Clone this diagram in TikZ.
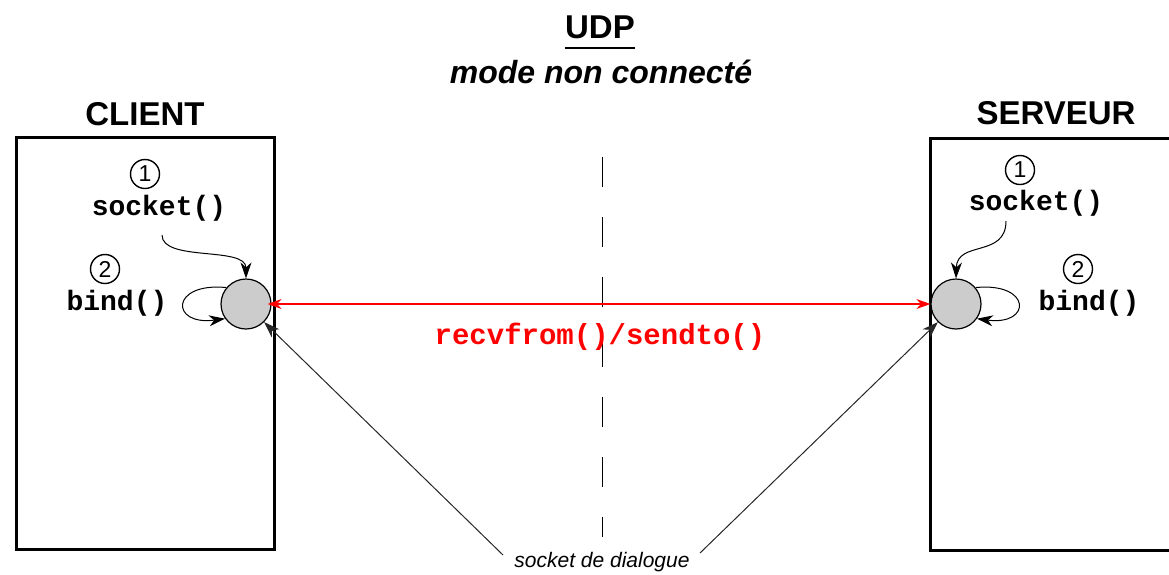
\documentclass[tikz,border=0pt]{standalone}
\usepackage{fontspec}
\setmainfont{Liberation Sans}
\setmonofont{Liberation Mono}
\usetikzlibrary{arrows.meta}

\begin{document}
\begin{tikzpicture}[x=1pt,y=-1pt,
  hostbox/.style={draw, line width=3pt},
  sockc/.style={circle, draw, line width=1.2pt, fill=black!20, minimum size=50pt, inner sep=0pt},
  callname/.style={font=\fontsize{28}{28}\selectfont\ttfamily\bfseries, inner sep=0pt, anchor=base},
  stepnum/.style={circle, draw, line width=1.4pt, minimum size=29pt, inner sep=0pt, font=\fontsize{23}{23}\selectfont},
  hosttitle/.style={font=\fontsize{33}{33}\selectfont\bfseries, inner sep=0pt, anchor=base},
  tip/.style={-{Stealth[length=16pt,width=11pt,inset=5pt]}, line width=1pt},
  exchange/.style={red, line width=1.2pt, {Stealth[length=14pt,width=10pt]}-{Stealth[length=14pt,width=10pt]}},
  boundary/.style={line width=1pt, dash pattern=on 30pt off 30pt},
]
\useasboundingbox (0,0) rectangle (1169,574);

% host frames (the server frame runs off the right edge)
\begin{scope}
  \clip (0,0) rectangle (1169,574);
  \draw[hostbox] (16,137) rectangle (274,549);
  \draw[hostbox] (930,138) rectangle (1195,550);
\end{scope}

% titles
\node[hosttitle] (udp) at (600,38) {UDP};
\draw[line width=2.5pt] ([yshift=-10pt]udp.base west) -- ([yshift=-10pt]udp.base east);
\node[font=\fontsize{32}{32}\selectfont\bfseries\itshape, inner sep=0pt, anchor=base] (mode) at (601,83) {mode non connecté};
\node[hosttitle] (client) at (145,125) {CLIENT};
\node[hosttitle] (serveur) at (1056,124) {SERVEUR};

% boundary between the hosts
\coordinate (btop) at (602,157);
\coordinate (bbot) at (602,537);
\draw[boundary] (btop) -- (bbot);

% sockets
\node[sockc] (cs) at (246,304) {};
\node[sockc] (ss) at (956,304) {};

% client calls
\node[stepnum] (c1) at (145,174) {1};
\node[callname] (csock) at (159,215) {socket()};
\node[stepnum] (c2) at (105,269) {2};
\node[callname] (cbind) at (117,310) {bind()};

% server calls
\node[stepnum] (s1) at (1020,170) {1};
\node[callname] (ssock) at (1036,210) {socket()};
\node[stepnum] (s2) at (1078,269) {2};
\node[callname] (sbind) at (1089,310) {bind()};

% socket() creates the socket
\draw[tip] ([xshift=3pt,yshift=-14pt]csock.south) .. controls (162,262) and (246,246) .. (cs.north);
\draw[tip] ([xshift=-30pt,yshift=-5pt]ssock.south) .. controls (1006,258) and (957,240) .. (ss.north);

% bind() loops
\draw[tip] (cs.140) .. controls (170,282) and (170,326) .. (cs.215);
\draw[tip] (ss.40) .. controls (1032,282) and (1032,326) .. (ss.-35);

% datagram exchange
\draw[exchange, shorten <=-4pt] (cs.east) -- (ss.west);
\node[red, callname, font=\fontsize{29}{29}\selectfont\ttfamily\bfseries] (xfer) at (600,344) {recvfrom()/sendto()};

% dialogue sockets
\node[font=\fontsize{21}{21}\selectfont\itshape, inner sep=0pt, anchor=base] (dlg) at (602,567) {socket de dialogue};
\coordinate (dl) at (503,555);
\coordinate (dr) at (700,553);
\draw[tip, black!85] (dl) -- (cs.-45);
\draw[tip, black!85] (dr) -- (ss.-135);
\end{tikzpicture}
\end{document}
